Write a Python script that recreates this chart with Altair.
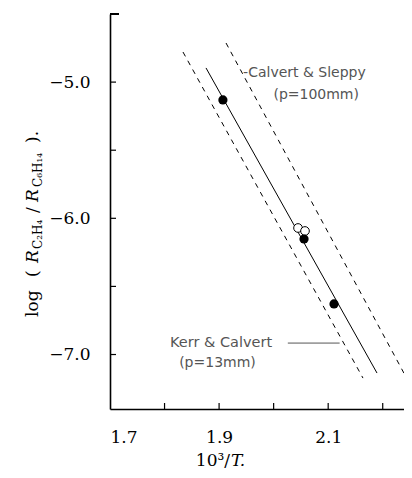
import altair as alt
import pandas as pd

# ---- data ----
solid_x = [1.876, 2.1895]
solid_y = [-4.896, -7.136]
kerr_x = [1.8338, 2.1638]
kerr_y = [-4.779, -7.173]
sleppy_x = [1.9127, 2.2427]
sleppy_y = [-4.713, -7.165]

filled_x = [1.907, 2.0557, 2.1107]
filled_y = [-5.131, -6.152, -6.629]
open_x = [2.0447, 2.0575]
open_y = [-6.071, -6.093]

x_labels = [1.7, 1.9, 2.1]
y_labels = [-7.0, -6.0, -5.0]
x_ticks = [1.8, 1.9, 2.0, 2.1, 2.2]
y_ticks = [-7.0, -6.5, -6.0, -5.5, -5.0]
y_top_tick = [-4.5]

W, H = 294, 395
xs = alt.Scale(domain=[1.7, 2.239], nice=False, zero=False)
ys = alt.Scale(domain=[-7.4, -4.5], nice=False, zero=False)
SERIF = "DejaVu Serif"
SANS = "DejaVu Sans"

xa = alt.Axis(values=x_labels, format=".1f", ticks=False, grid=False,
              domainColor="black", domainWidth=1.6, labelFont=SERIF,
              labelFontSize=17, labelColor="black", labelPadding=20,
              labelFlush=True, title=None)
ya = alt.Axis(values=y_labels, format=".1f", ticks=False, grid=False,
              domainColor="black", domainWidth=1.6, labelFont=SERIF,
              labelFontSize=17, labelColor="black", labelPadding=20,
              title=None)

solid_df = pd.DataFrame({"x": solid_x, "y": solid_y})
dash_df = pd.DataFrame({
    "x": kerr_x + sleppy_x,
    "y": kerr_y + sleppy_y,
    "line": ["Kerr & Calvert"] * 2 + ["Calvert & Sleppy"] * 2,
})
filled_df = pd.DataFrame({"x": filled_x, "y": filled_y})
open_df = pd.DataFrame({"x": open_x, "y": open_y})


def X(f="x:Q"):
    return alt.X(f, scale=xs, axis=xa)


def Y(f="y:Q"):
    return alt.Y(f, scale=ys, axis=ya)


solid = alt.Chart(solid_df).mark_line(color="black", strokeWidth=1).encode(x=X(), y=Y())

dashed = alt.Chart(dash_df).mark_line(color="black", strokeWidth=1, strokeDash=[5, 5]).encode(
    x=X(), y=Y(), detail="line:N")

filled = alt.Chart(filled_df).mark_point(filled=True, color="black", size=85, opacity=1,
                                         shape="circle").encode(x=X(), y=Y())
opened = alt.Chart(open_df).mark_point(filled=False, color="black", fill="white", fillOpacity=1,
                                       size=75, strokeWidth=1, opacity=1,
                                       shape="circle").encode(x=X(), y=Y())

xt = alt.Chart(pd.DataFrame({"v": x_ticks})).mark_rule(color="black", strokeWidth=1.2).encode(
    x=X("v:Q"), y=alt.value(H), y2=alt.value(H - 6))
yt = alt.Chart(pd.DataFrame({"v": y_ticks})).mark_rule(color="black", strokeWidth=1.2).encode(
    y=Y("v:Q"), x=alt.value(0), x2=alt.value(6))
ytop = alt.Chart(pd.DataFrame({"v": y_top_tick})).mark_rule(color="black", strokeWidth=2).encode(
    y=Y("v:Q"), x=alt.value(0), x2=alt.value(9))

one = pd.DataFrame({"a": [0]})


def ptext(text, x, y, size, style="normal", font=SERIF, angle=None, align="left",
          baseline="alphabetic", color="black"):
    kw = dict(text=text, fontSize=size, font=font, fontStyle=style, align=align,
              baseline=baseline, color=color)
    if angle is not None:
        kw["angle"] = angle
    return alt.Chart(one).mark_text(**kw).encode(x=alt.value(x), y=alt.value(y))


def dtext(text, x, y, size, align="left", color="#555"):
    return alt.Chart(one).mark_text(text=text, fontSize=size, font=SANS, align=align,
                                    baseline="middle", color=color).encode(
        x=alt.datum(x, scale=xs, axis=xa), y=alt.datum(y, scale=ys, axis=ya))


annots = [
    dtext("-Calvert & Sleppy", 1.944, -4.933, 14),
    dtext("(p=100mm)", 2.078, -5.095, 14, align="center"),
    dtext("Kerr & Calvert", 1.810, -6.916, 14.5),
    dtext("(p=13mm)", 1.897, -7.062, 14, align="center"),
]
arrow = alt.Chart(one).mark_rule(color="#555", strokeWidth=1).encode(
    x=alt.datum(2.026, scale=xs, axis=xa), x2=alt.datum(2.121),
    y=alt.datum(-6.916, scale=ys, axis=ya))

# y-axis title pieces (rotated), x-axis title pieces
ytitle = [
    ptext("log", -72, 303, 17, angle=270),
    ptext("(", -72, 263, 17, angle=270),
    ptext("R", -72, 249, 17, style="italic", angle=270),
    ptext("C₂H₄", -68, 235, 12, angle=270),
    ptext("/", -72, 199, 17, angle=270),
    ptext("R", -72, 188, 17, style="italic", angle=270),
    ptext("C₆H₁₄", -68, 173, 12, angle=270),
    ptext(").", -72, 129, 17, angle=270),
]
xtitle = [
    ptext("10³/", 120, 452, 17, align="right"),
    ptext("T.", 121, 452, 17, style="italic"),
]

chart = alt.layer(
    solid, dashed, xt, yt, ytop, opened, filled, arrow, *annots, *ytitle, *xtitle
).properties(
    width=W, height=H,
    autosize=alt.AutoSizeParams(type="none"),
    padding={"left": 102, "top": 6, "right": 0, "bottom": 60},
    background="white",
).configure_view(stroke=None)

chart.save("out.html", embed_options={"renderer": "svg", "actions": False})
